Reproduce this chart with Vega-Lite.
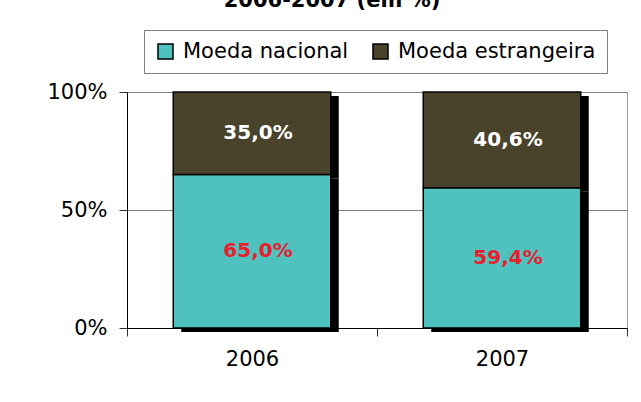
{
  "$schema": "https://vega.github.io/schema/vega-lite/v6.json",
  "width": 500,
  "height": 236,
  "autosize": {"type": "none"},
  "padding": {"left": 127, "top": 92, "right": 14, "bottom": 74},
  "background": "white",
  "config": {
    "locale": {"number": {"decimal": ",", "thousands": ".", "grouping": [3], "currency": ["", ""]}},
    "font": "DejaVu Sans",
    "view": {"stroke": "#999999", "strokeWidth": 1}
  },
  "title": {
    "text": "2006-2007 (em %)",
    "fontSize": 21,
    "fontWeight": "bold",
    "font": "DejaVu Sans",
    "color": "black",
    "anchor": "middle",
    "dx": -45,
    "dy": -19,
    "offset": 0
  },
  "data": {
    "values": [
      {"ano": "2006", "moeda": "Moeda nacional", "valor": 0.650},
      {"ano": "2006", "moeda": "Moeda estrangeira", "valor": 0.350},
      {"ano": "2007", "moeda": "Moeda nacional", "valor": 0.594},
      {"ano": "2007", "moeda": "Moeda estrangeira", "valor": 0.406}
    ]
  },
  "transform": [
    {"stack": "valor", "groupby": ["ano"], "sort": [{"field": "moeda", "order": "descending"}], "as": ["v0", "v1"]},
    {"calculate": "(datum.v0 + datum.v1) / 2", "as": "mid"}
  ],
  "encoding": {
    "x": {
      "field": "ano",
      "type": "nominal",
      "scale": {"paddingInner": 0, "paddingOuter": 0},
      "axis": {
        "title": null,
        "labelAngle": 0,
        "labelFontSize": 21,
        "labelColor": "black",
        "labelPadding": 12,
        "domainColor": "black",
        "domainWidth": 1,
        "tickColor": "#333333",
        "tickSize": 8,
        "tickBand": "extent"
      }
    }
  },
  "layer": [
    {
      "mark": {"type": "bar", "color": "black", "width": {"band": 0.63}, "xOffset": 8, "x2Offset": 8, "yOffset": 4, "y2Offset": 4},
      "encoding": {
        "y": {
          "field": "v1",
          "type": "quantitative",
          "scale": {"domain": [0, 1], "nice": false},
          "axis": {
            "title": null,
            "values": [0, 0.5, 1],
            "format": ".0%",
            "grid": true,
            "gridColor": "#808080",
            "gridWidth": 1,
            "labelFontSize": 21,
            "labelColor": "black",
            "labelPadding": 12,
            "tickSize": 8,
            "tickColor": "#333333",
            "domainColor": "black"
          }
        },
        "y2": {"field": "v0"}
      }
    },
    {
      "mark": {"type": "bar", "stroke": "black", "strokeWidth": 1.5, "width": {"band": 0.63}},
      "encoding": {
        "y": {
          "field": "v1",
          "type": "quantitative",
          "scale": {"domain": [0, 1], "nice": false},
          "axis": {
            "title": null,
            "values": [0, 0.5, 1],
            "format": ".0%",
            "grid": true,
            "gridColor": "#808080",
            "gridWidth": 1,
            "labelFontSize": 21,
            "labelColor": "black",
            "labelPadding": 12,
            "tickSize": 8,
            "tickColor": "#333333",
            "domainColor": "black"
          }
        },
        "y2": {"field": "v0"},
        "color": {
          "field": "moeda",
          "type": "nominal",
          "scale": {"domain": ["Moeda nacional", "Moeda estrangeira"], "range": ["#4FC2BF", "#4A432C"]},
          "legend": {
            "title": null,
            "orient": "none",
            "legendX": 17,
            "legendY": -62,
            "direction": "horizontal",
            "symbolType": "square",
            "symbolSize": 225,
            "symbolStrokeColor": "black",
            "symbolStrokeWidth": 1.5,
            "labelFontSize": 21,
            "labelFont": "DejaVu Sans",
            "labelColor": "black",
            "labelOffset": 7,
            "labelLimit": 0,
            "columnPadding": 21,
            "padding": 11,
            "fillColor": "white",
            "strokeColor": "#808080"
          }
        }
      }
    },
    {
      "mark": {"type": "text", "fontWeight": "bold", "fontSize": 20, "dx": 6, "baseline": "middle"},
      "encoding": {
        "y": {
          "field": "mid",
          "type": "quantitative",
          "scale": {"domain": [0, 1], "nice": false},
          "axis": {
            "title": null,
            "values": [0, 0.5, 1],
            "format": ".0%",
            "grid": true,
            "gridColor": "#808080",
            "gridWidth": 1,
            "labelFontSize": 21,
            "labelColor": "black",
            "labelPadding": 12,
            "tickSize": 8,
            "tickColor": "#333333",
            "domainColor": "black"
          }
        },
        "text": {"field": "valor", "type": "quantitative", "format": ".1%"},
        "fill": {"condition": {"test": "datum.moeda === 'Moeda nacional'", "value": "#E8202E"}, "value": "white"}
      }
    }
  ]
}
